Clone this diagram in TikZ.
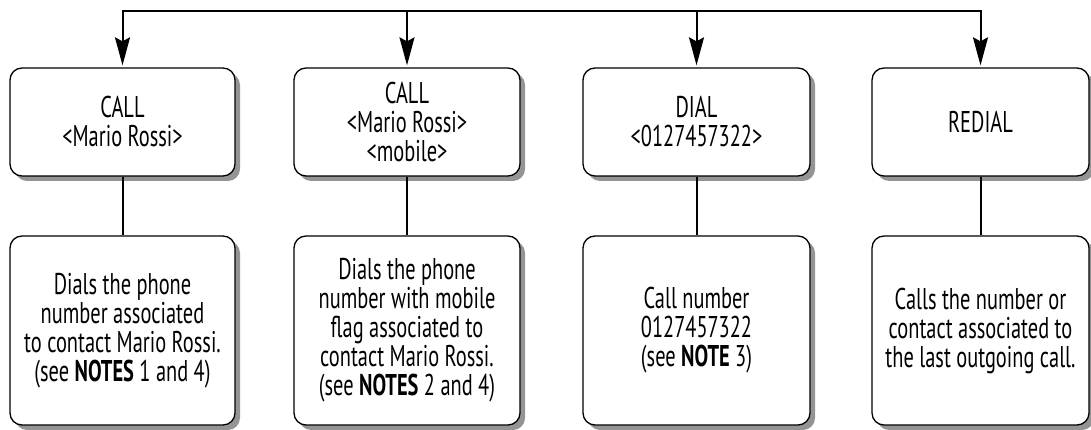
\documentclass[tikz,border=0pt]{standalone}
\usepackage{fontspec}
\setmainfont{PT Sans}[FakeStretch=0.68]
\usetikzlibrary{shadows,arrows.meta}
\newcommand{\boxfont}{\fontsize{30pt}{29pt}\selectfont}
\begin{document}
\begin{tikzpicture}[x=1pt,y=1pt,
  box/.style={draw=black, line width=1.3pt, rounded corners=12pt, fill=white,
    drop shadow={shadow xshift=5pt, shadow yshift=-5pt, fill=black!42, opacity=1},
    align=center, inner sep=0pt, font=\boxfont},
  topbox/.style={box, minimum height=108pt},
  botbox/.style={box, minimum height=189pt},
  link/.style={line width=2pt},
  arr/.style={link, shorten >=2pt, -{Stealth[length=28pt, width=15pt, inset=4pt]}}]
\useasboundingbox (0,0) rectangle (1091,-430);
\node[topbox, minimum width=225pt] (t1) at (122.5,-122) {CALL\\<Mario Rossi>};
\node[topbox, minimum width=226pt] (t2) at (407,-122) {CALL\\<Mario Rossi>\\<mobile>};
\node[topbox, minimum width=227pt] (t3) at (696.5,-122) {DIAL\\<0127457322>};
\node[topbox, minimum width=217pt] (t4) at (980.5,-122) {REDIAL};
\node[botbox, minimum width=225pt] (b1) at (122.5,-330.5) {Dials the phone\\number associated\\to contact Mario Rossi.\\(see \textbf{NOTES} 1 and 4)};
\node[botbox, minimum width=226pt] (b2) at (407,-330.5) {Dials the phone\\number with mobile\\flag associated to\\contact Mario Rossi.\\(see \textbf{NOTES} 2 and 4)};
\node[botbox, minimum width=227pt] (b3) at (696.5,-330.5) {Call number\\0127457322\\(see \textbf{NOTE} 3)};
\node[botbox, minimum width=217pt] (b4) at (980.5,-330.5) {Calls the number or\\contact associated to\\the last outgoing call.};
\coordinate (c1) at (t1.north |- 0,-11);
\coordinate (c2) at (t2.north |- 0,-11);
\coordinate (c3) at (t3.north |- 0,-11);
\coordinate (c4) at (t4.north |- 0,-11);
\draw[link, line cap=rect] (c1) -- (c4);
\draw[arr] (c1) -- (t1.north);
\draw[arr] (c2) -- (t2.north);
\draw[arr] (c3) -- (t3.north);
\draw[arr] (c4) -- (t4.north);
\draw[link] (t1.south) -- (b1.north);
\draw[link] (t2.south) -- (b2.north);
\draw[link] (t3.south) -- (b3.north);
\draw[link] (t4.south) -- (b4.north);
\end{tikzpicture}
\end{document}
